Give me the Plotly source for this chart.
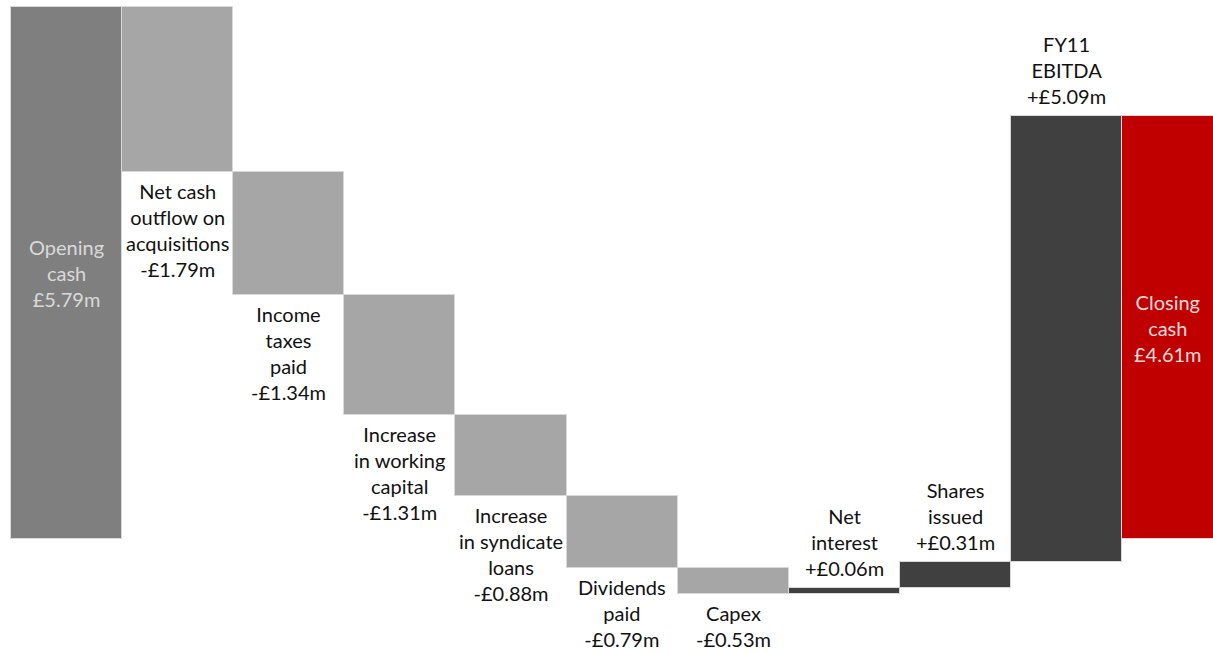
import numpy as np
import plotly.graph_objects as go

# ---- data (bar heights, £m) ----
labels = [
    "Opening<br>cash<br>£5.79m",
    "Net cash<br>outflow on<br>acquisitions<br>-£1.79m",
    "Income<br>taxes<br>paid<br>-£1.34m",
    "Increase<br>in working<br>capital<br>-£1.31m",
    "Increase<br>in syndicate<br>loans<br>-£0.88m",
    "Dividends<br>paid<br>-£0.79m",
    "Capex<br>-£0.53m",
    "Net<br>interest<br>+£0.06m",
    "Shares<br>issued<br>+£0.31m",
    "FY11<br>EBITDA<br>+£5.09m",
    "Closing<br>cash<br>£4.61m",
]
measures = ["absolute", "relative", "relative", "relative", "relative", "relative",
            "relative", "relative", "relative", "relative", "total"]
bar_values = [5.79, -1.79, -1.34, -1.31, -0.88, -0.79, -0.28, 0.065, 0.28, 4.86, 4.61]
bar_colors = ["#7f7f7f", "#a6a6a6", "#a6a6a6", "#a6a6a6", "#a6a6a6", "#a6a6a6",
              "#a6a6a6", "#404040", "#404040", "#404040", "#c00000"]
inside_text_colors = {0: "#d9d9d9", 10: "#f2dcdb"}

# ---- compute floating bar bases ----
bases, heights = [], []
running = 0.0
for m, v in zip(measures, bar_values):
    if m == "absolute":
        bases.append(0.0); heights.append(v); running = v
    elif m == "total":
        bases.append(0.0); heights.append(running)
    else:
        bases.append(running); heights.append(v); running += v

x = np.arange(len(labels))
XR = [-0.599, 10.319]
YR = [-1.231, 5.871]

fig = go.Figure(go.Bar(
    x=x, y=heights, base=bases, width=1.0,
    marker=dict(color=bar_colors, line=dict(color="#d9d9d9", width=1)),
    hoverinfo="skip",
))

FONT = "Lato, 'Open Sans', sans-serif"
FS = 20
annotations = []
for i, (m, b, h, t) in enumerate(zip(measures, bases, heights, labels)):
    if m in ("absolute", "total"):
        xc = i if i < len(labels) - 1 else (i - 0.5 + XR[1]) / 2
        annotations.append(dict(x=xc, y=b + h / 2, text=t, showarrow=False,
                                xanchor="center", yanchor="middle",
                                font=dict(size=FS, color=inside_text_colors[i], family=FONT)))
    elif h < 0:
        annotations.append(dict(x=i, y=b + h, text=t, showarrow=False,
                                xanchor="center", yanchor="top", yshift=-5,
                                font=dict(size=FS, color="#111111", family=FONT)))
    else:
        annotations.append(dict(x=i, y=b + h, text=t, showarrow=False,
                                xanchor="center", yanchor="bottom", yshift=6,
                                font=dict(size=FS, color="#111111", family=FONT)))

fig.update_layout(
    width=1213, height=652,
    margin=dict(l=0, r=0, t=0, b=0),
    paper_bgcolor="white", plot_bgcolor="white",
    showlegend=False,
    bargap=0,
    xaxis=dict(range=XR, visible=False, fixedrange=True),
    yaxis=dict(range=YR, visible=False, fixedrange=True),
    annotations=annotations,
)

fig.write_html("out.html", config={"displayModeBar": False},
               post_script="document.body.style.margin='0';document.body.style.overflow='hidden';")
